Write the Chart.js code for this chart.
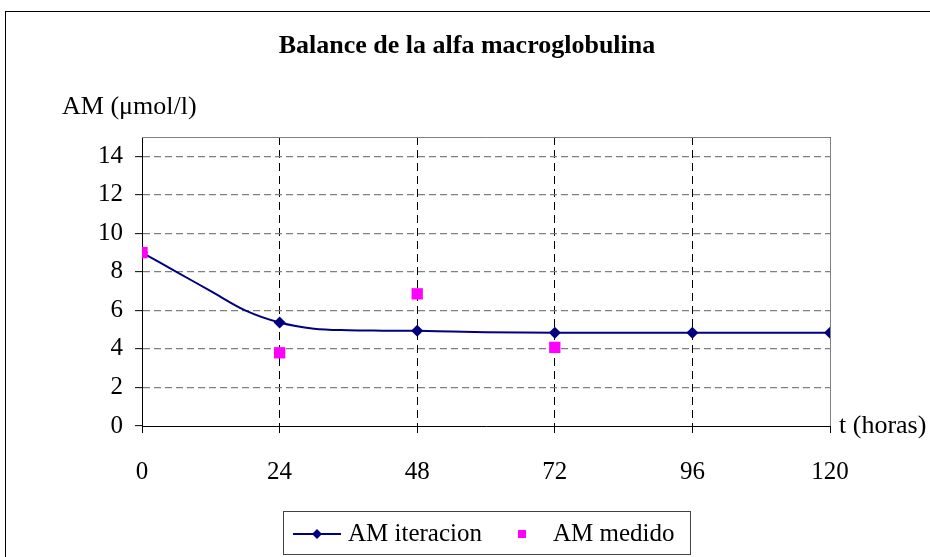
<!DOCTYPE html>
<html>
<head>
<meta charset="utf-8">
<script src="https://cdn.jsdelivr.net/npm/chart.js@4.4.1/dist/chart.umd.min.js"></script>
<style>
    body { margin: 0; background: #fff; }
    #wrap { width: 930px; height: 557px; }
</style>
</head>
<body>
<div id="wrap"><canvas id="grafico" width="930" height="557"></canvas></div>
<script>
// datos
var horasIter = [0, 6, 12, 18, 24, 30, 36, 42, 48, 54, 60, 66, 72, 84, 96, 108, 120];
var amIteracion = [9.0, 8.0, 7.0, 6.0, 5.37, 5.05, 4.97, 4.95, 4.94, 4.9, 4.87, 4.85, 4.84, 4.84, 4.84, 4.84, 4.84];
var horasMedido = [0, 24, 48, 72];
var amMedido = [9.0, 3.8, 6.86, 4.08];
var ticksX = [0, 24, 48, 72, 96, 120];
var ticksY = [0, 2, 4, 6, 8, 10, 12, 14];

var fuente = "'Liberation Serif', 'Times New Roman', serif";
var navy = '#000080';
var rosa = '#FF00FF';

// titulo, rotulos, marco y leyenda al estilo Excel
var decoracion = {
    id: 'decoracion',
    beforeDatasetsDraw: function (chart) {
        var ctx = chart.ctx, a = chart.chartArea;
        ctx.save();
        ctx.strokeStyle = '#808080';
        ctx.lineWidth = 1;
        ctx.beginPath();
        ctx.moveTo(a.left, Math.round(a.top) + 0.5);
        ctx.lineTo(Math.round(a.right) + 0.5, Math.round(a.top) + 0.5);
        ctx.lineTo(Math.round(a.right) + 0.5, a.bottom);
        ctx.stroke();
        ctx.restore();
    },
    afterDraw: function (chart) {
        var ctx = chart.ctx, a = chart.chartArea;
        ctx.save();
        // marco exterior
        ctx.strokeStyle = '#000';
        ctx.lineWidth = 1;
        ctx.strokeRect(5.5, 11.5, 940, 600);

        ctx.fillStyle = '#000';
        ctx.textBaseline = 'middle';
        ctx.textAlign = 'center';
        ctx.font = 'bold 26px ' + fuente;
        ctx.fillText('Balance de la alfa macroglobulina', 467, 46);

        ctx.textAlign = 'left';
        ctx.font = '26px ' + fuente;
        ctx.fillText('AM (\u03bcmol/l)', 62, 107);
        ctx.fillText('t (horas)', 839, a.bottom);

        // leyenda
        ctx.strokeStyle = '#444';
        ctx.strokeRect(283.5, 511.5, 407, 43);
        var ly = 534;
        ctx.strokeStyle = navy;
        ctx.lineWidth = 2;
        ctx.beginPath();
        ctx.moveTo(293, ly);
        ctx.lineTo(341, ly);
        ctx.stroke();
        ctx.fillStyle = navy;
        ctx.beginPath();
        ctx.moveTo(317, ly - 5);
        ctx.lineTo(322, ly);
        ctx.lineTo(317, ly + 5);
        ctx.lineTo(312, ly);
        ctx.closePath();
        ctx.fill();
        ctx.fillStyle = rosa;
        ctx.fillRect(518, ly - 4, 8, 8);
        ctx.fillStyle = '#000';
        ctx.font = '25px ' + fuente;
        ctx.fillText('AM iteracion', 348, ly);
        ctx.fillText('AM medido', 553, ly);
        ctx.restore();
    }
};

var ctx = document.getElementById('grafico').getContext('2d');
var grafico = new Chart(ctx, {
    type: 'line',
    data: {
        datasets: [{
            label: 'AM medido',
            data: horasMedido.map(function (h, i) { return { x: h, y: amMedido[i] }; }),
            showLine: false,
            pointStyle: 'rect',
            pointRadius: 8,
            pointBackgroundColor: rosa,
            pointBorderColor: rosa,
            pointBorderWidth: 0,
            order: 0
        }, {
            label: 'AM iteracion',
            data: horasIter.map(function (h, i) { return { x: h, y: amIteracion[i] }; }),
            borderColor: navy,
            borderWidth: 2,
            cubicInterpolationMode: 'monotone',
            pointStyle: 'rectRot',
            pointRadius: horasIter.map(function (h) { return h % 24 === 0 ? 6 : 0; }),
            pointBackgroundColor: navy,
            pointBorderColor: navy,
            pointBorderWidth: 0,
            order: 1
        }]
    },
    options: {
        responsive: false,
        animation: false,
        events: [],
        layout: { padding: { top: 137, right: 100, left: 0, bottom: 0 } },
        plugins: {
            legend: { display: false },
            title: { display: false },
            tooltip: { enabled: false }
        },
        scales: {
            x: {
                type: 'linear',
                min: 0,
                max: 120,
                afterBuildTicks: function (s) { s.ticks = ticksX.map(function (v) { return { value: v }; }); },
                afterFit: function (s) { s.height = 131; },
                ticks: { color: '#000', padding: 24, maxRotation: 0, font: { family: fuente, size: 25 } },
                grid: {
                    color: function (c) { return c.tick && c.tick.value === 0 ? 'rgba(0,0,0,0)' : '#000'; },
                    tickLength: 7, tickColor: '#000', tickBorderDash: []
                },
                border: { color: '#000', width: 1, dash: [8, 5] }
            },
            y: {
                min: 0,
                max: 15,
                afterBuildTicks: function (s) { s.ticks = ticksY.map(function (v) { return { value: v }; }); },
                afterFit: function (s) { s.width = 142; },
                ticks: { color: '#000', padding: 12, font: { family: fuente, size: 25 } },
                grid: {
                    color: function (c) { return c.tick && c.tick.value === 0 ? 'rgba(0,0,0,0)' : '#808080'; },
                    lineWidth: 1.3, tickLength: 7, tickColor: '#000', tickWidth: 1, tickBorderDash: []
                },
                border: { color: '#000', width: 1, dash: [7, 4] }
            }
        }
    },
    plugins: [decoracion]
});
</script>
</body>
</html>
